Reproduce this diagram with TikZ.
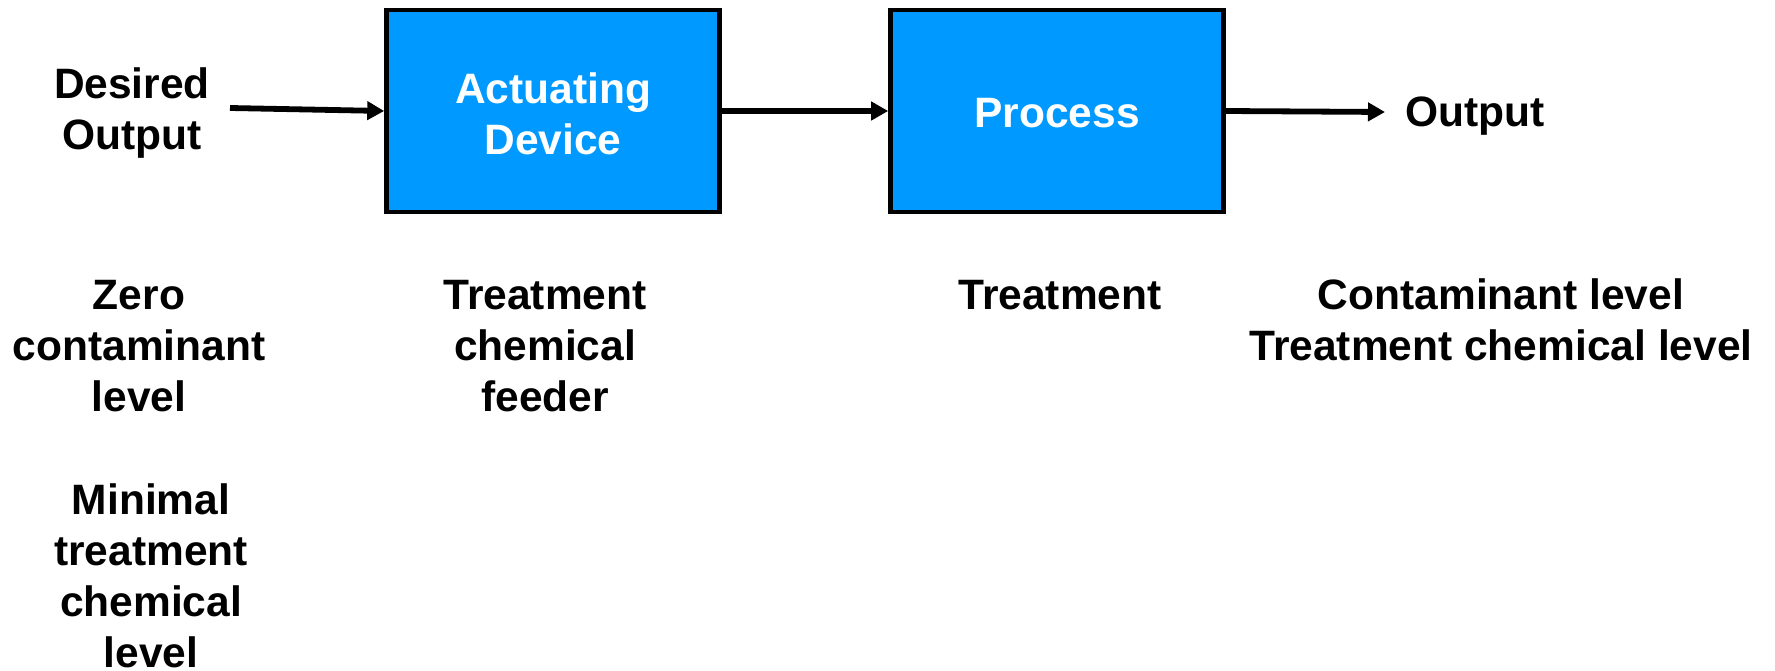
\documentclass[tikz,border=0pt]{standalone}
\usepackage{fontspec}
\setmainfont{Liberation Sans}
\usetikzlibrary{arrows.meta}
\definecolor{boxblue}{HTML}{0099FF}
\begin{document}
\begin{tikzpicture}[x=1pt,y=-1pt,
  lbl/.style={font=\fontsize{42.5}{51}\selectfont\bfseries, align=center, inner sep=0pt},
  block/.style={draw=black, line width=4.6pt, fill=boxblue, minimum width=333pt, minimum height=202pt,
    inner sep=0pt},
  flow/.style={line width=5.8pt, -{Triangle[length=17pt,width=18pt]}}]
\useasboundingbox (0,0) rectangle (1775,671);

% blocks
\node[block] (act) at (553,111) {};
\node[lbl, text=white] (actlbl) at (553,114) {Actuating\\Device};
\node[block] (proc) at (1057,111) {};
\node[lbl, text=white] (proclbl) at (1057,113) {Process};

% signal labels
\node[lbl] (des) at (132,113) {Desired\\Output};
\node[lbl, anchor=west] (out) at (1405,116) {Output};
\coordinate (desEnd) at (230,108);
\coordinate (outEnd) at (1385,112);

% connectors
\draw[flow] (desEnd) -- (act.west);
\draw[flow] (act.east) -- (proc.west);
\draw[flow] (proc.east) -- (outEnd);

% descriptions under the diagram
\node[lbl] (zero) at (139,346) {Zero\\contaminant\\level};
\node[lbl] (minimal) at (151,576) {Minimal\\treatment\\chemical\\level};
\node[lbl] (feeder) at (545,346) {Treatment\\chemical\\feeder};
\node[lbl] (treat) at (1060,295) {Treatment};
\node[lbl] (levels) at (1501,320) {Contaminant level\\Treatment chemical level};
\end{tikzpicture}
\end{document}
